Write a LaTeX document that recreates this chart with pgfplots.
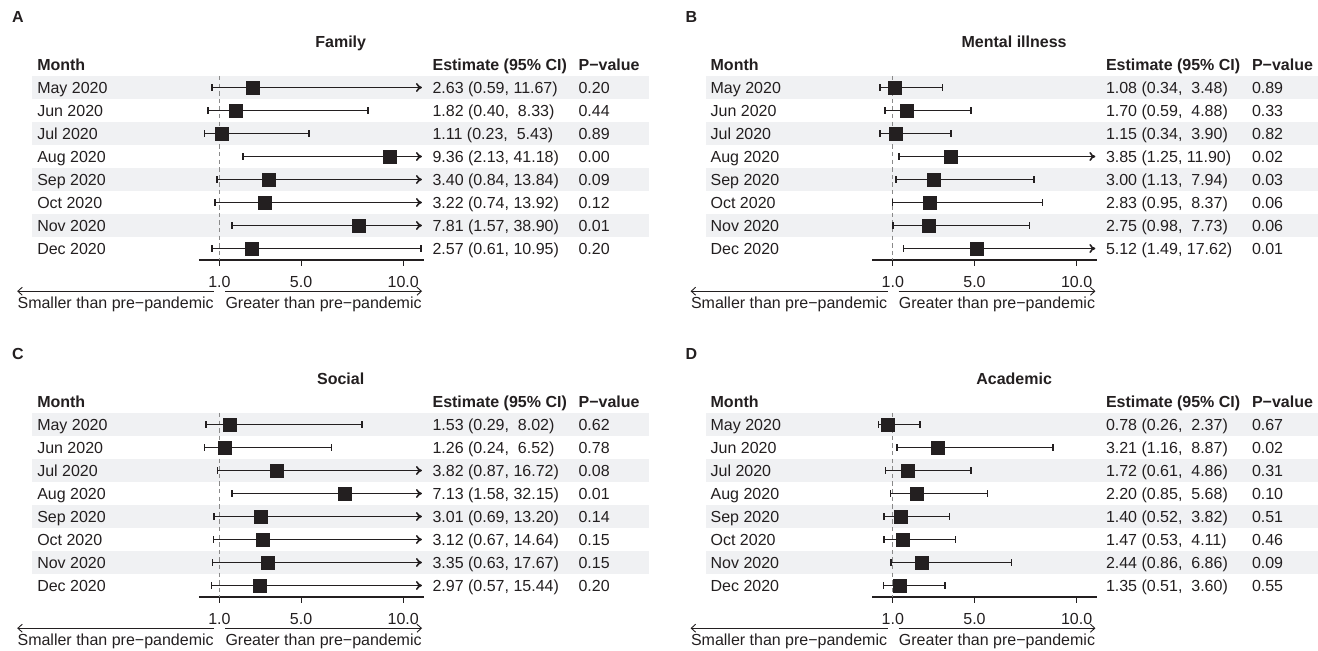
\documentclass[border=0pt]{standalone}
\usepackage{pgfplots}
\pgfplotsset{compat=1.18}
\usepackage{fontspec}
\setmainfont{Liberation Sans}
\usetikzlibrary{arrows.meta}
\definecolor{txt}{HTML}{231F20}
\definecolor{band}{HTML}{F0F1F3}
\definecolor{dashc}{HTML}{8A8A8A}
\newcommand\fs{\fontsize{8}{9.6}\selectfont}

\pgfplotsset{forest/.style={
  x=10.21pt, y=11.5pt, y dir=reverse,
  xmin=0, xmax=11, ymin=0.5, ymax=8.5,
  clip=false, hide y axis, axis x line*=bottom,
  x axis line style={-, line width=0.55pt, draw=txt},
  xtick=\empty,
  anchor=south west,
}}

\newcommand\rowtxt[4]{%
  \node[anchor=base west, inner sep=0, font=\fs, text=txt] at (axis cs:-7.94,#1+0.26) {#2};
  \node[anchor=base west, inner sep=0, font=\fs, text=txt] at (axis cs:11.42,#1+0.26) {#3};
  \node[anchor=base west, inner sep=0, font=\fs, text=txt] at (axis cs:18.57,#1+0.26) {#4};
}
\newcommand\ci[3]{\addplot[txt, line width=0.8pt, {Bar[width=3.2pt]}-{Bar[width=3.2pt]}, restrict x to domain*=0:10.92] coordinates {(#2,#1) (#3,#1)};}
\newcommand\cia[3]{\addplot[txt, line width=0.8pt, {Bar[width=3.2pt]}-{To[length=3pt,width=4.5pt]}, restrict x to domain*=0:10.92] coordinates {(#2,#1) (#3,#1)};}
\newcommand\tk[2]{%
  \draw[txt, line width=0.55pt] (axis cs:#1,8.5) -- (axis cs:#1,8.77);
  \node[anchor=base, inner sep=0, font=\fs, text=txt] at (axis cs:#1,9.70) {#2};
}
\newcommand\panelframe[2]{%
  \fill[band] (axis cs:-8.17,0.5) rectangle (axis cs:22.03,1.5);
  \fill[band] (axis cs:-8.17,2.5) rectangle (axis cs:22.03,3.5);
  \fill[band] (axis cs:-8.17,4.5) rectangle (axis cs:22.03,5.5);
  \fill[band] (axis cs:-8.17,6.5) rectangle (axis cs:22.03,7.5);
  \addplot[dashc, line width=0.6pt, dash pattern=on 2.2pt off 1.6pt] coordinates {(1,0.5) (1,8.5)};
  \tk{1}{1.0}\tk{5}{5.0}\tk{10}{10.0}
  \node[anchor=base west, inner sep=0, font=\fs\bfseries, text=txt] at (axis cs:-9.17,-1.81) {#1};
  \node[anchor=base, inner sep=0, font=\fs\bfseries, text=txt] at (axis cs:6.94,-0.76) {#2};
  \node[anchor=base west, inner sep=0, font=\fs\bfseries, text=txt] at (axis cs:-7.94,0.26) {Month};
  \node[anchor=base west, inner sep=0, font=\fs\bfseries, text=txt] at (axis cs:11.42,0.26) {Estimate (95\% CI)};
  \node[anchor=base west, inner sep=0, font=\fs\bfseries, text=txt] at (axis cs:18.57,0.26) {P−value};
  \node[anchor=base east, inner sep=0, font=\fs, text=txt] (L) at (axis cs:0.74,10.59) {Smaller than pre−pandemic};
  \node[anchor=base west, inner sep=0, font=\fs, text=txt] (R) at (axis cs:1.28,10.59) {Greater than pre−pandemic};
  \coordinate (ay) at (axis cs:0,9.857);
  \draw[txt, line width=0.45pt, {Straight Barb[length=2.2pt,width=4pt]}-] (L.west |- ay) -- (L.east |- ay);
  \draw[txt, line width=0.45pt, -{Straight Barb[length=2.2pt,width=4pt]}] (R.west |- ay) -- (R.east |- ay);
}
\pgfplotsset{sq/.style={only marks, mark=square*, mark size=3.25pt, color=txt}}

\begin{document}
\begin{tikzpicture}
\useasboundingbox (0,0) rectangle (659pt,325pt);

% ---------- A: Family
\begin{axis}[forest, at={(99.5pt,195pt)}]
\panelframe{A}{Family}
\cia{1}{0.59}{11.67}
\ci{2}{0.40}{8.33}
\ci{3}{0.23}{5.43}
\cia{4}{2.13}{41.18}
\cia{5}{0.84}{13.84}
\cia{6}{0.74}{13.92}
\cia{7}{1.57}{38.90}
\ci{8}{0.61}{10.95}
\addplot[sq] coordinates {(2.63,1) (1.82,2) (1.11,3) (9.36,4) (3.40,5) (3.22,6) (7.81,7) (2.57,8)};
\rowtxt{1}{May 2020}{2.63 (0.59, 11.67)}{0.20}
\rowtxt{2}{Jun 2020}{1.82 (0.40,\ \ 8.33)}{0.44}
\rowtxt{3}{Jul 2020}{1.11 (0.23,\ \ 5.43)}{0.89}
\rowtxt{4}{Aug 2020}{9.36 (2.13, 41.18)}{0.00}
\rowtxt{5}{Sep 2020}{3.40 (0.84, 13.84)}{0.09}
\rowtxt{6}{Oct 2020}{3.22 (0.74, 13.92)}{0.12}
\rowtxt{7}{Nov 2020}{7.81 (1.57, 38.90)}{0.01}
\rowtxt{8}{Dec 2020}{2.57 (0.61, 10.95)}{0.20}
\end{axis}

% ---------- B: Mental illness
\begin{axis}[forest, at={(436.2pt,195pt)}]
\panelframe{B}{Mental illness}
\ci{1}{0.34}{3.48}
\ci{2}{0.59}{4.88}
\ci{3}{0.34}{3.90}
\cia{4}{1.25}{11.90}
\ci{5}{1.13}{7.94}
\ci{6}{0.95}{8.37}
\ci{7}{0.98}{7.73}
\cia{8}{1.49}{17.62}
\addplot[sq] coordinates {(1.08,1) (1.70,2) (1.15,3) (3.85,4) (3.00,5) (2.83,6) (2.75,7) (5.12,8)};
\rowtxt{1}{May 2020}{1.08 (0.34,\ \ 3.48)}{0.89}
\rowtxt{2}{Jun 2020}{1.70 (0.59,\ \ 4.88)}{0.33}
\rowtxt{3}{Jul 2020}{1.15 (0.34,\ \ 3.90)}{0.82}
\rowtxt{4}{Aug 2020}{3.85 (1.25, 11.90)}{0.02}
\rowtxt{5}{Sep 2020}{3.00 (1.13,\ \ 7.94)}{0.03}
\rowtxt{6}{Oct 2020}{2.83 (0.95,\ \ 8.37)}{0.06}
\rowtxt{7}{Nov 2020}{2.75 (0.98,\ \ 7.73)}{0.06}
\rowtxt{8}{Dec 2020}{5.12 (1.49, 17.62)}{0.01}
\end{axis}

% ---------- C: Social
\begin{axis}[forest, at={(99.5pt,26.5pt)}]
\panelframe{C}{Social}
\ci{1}{0.29}{8.02}
\ci{2}{0.24}{6.52}
\cia{3}{0.87}{16.72}
\cia{4}{1.58}{32.15}
\cia{5}{0.69}{13.20}
\cia{6}{0.67}{14.64}
\cia{7}{0.63}{17.67}
\cia{8}{0.57}{15.44}
\addplot[sq] coordinates {(1.53,1) (1.26,2) (3.82,3) (7.13,4) (3.01,5) (3.12,6) (3.35,7) (2.97,8)};
\rowtxt{1}{May 2020}{1.53 (0.29,\ \ 8.02)}{0.62}
\rowtxt{2}{Jun 2020}{1.26 (0.24,\ \ 6.52)}{0.78}
\rowtxt{3}{Jul 2020}{3.82 (0.87, 16.72)}{0.08}
\rowtxt{4}{Aug 2020}{7.13 (1.58, 32.15)}{0.01}
\rowtxt{5}{Sep 2020}{3.01 (0.69, 13.20)}{0.14}
\rowtxt{6}{Oct 2020}{3.12 (0.67, 14.64)}{0.15}
\rowtxt{7}{Nov 2020}{3.35 (0.63, 17.67)}{0.15}
\rowtxt{8}{Dec 2020}{2.97 (0.57, 15.44)}{0.20}
\end{axis}

% ---------- D: Academic
\begin{axis}[forest, at={(436.2pt,26.5pt)}]
\panelframe{D}{Academic}
\ci{1}{0.26}{2.37}
\ci{2}{1.16}{8.87}
\ci{3}{0.61}{4.86}
\ci{4}{0.85}{5.68}
\ci{5}{0.52}{3.82}
\ci{6}{0.53}{4.11}
\ci{7}{0.86}{6.86}
\ci{8}{0.51}{3.60}
\addplot[sq] coordinates {(0.78,1) (3.21,2) (1.72,3) (2.20,4) (1.40,5) (1.47,6) (2.44,7) (1.35,8)};
\rowtxt{1}{May 2020}{0.78 (0.26,\ \ 2.37)}{0.67}
\rowtxt{2}{Jun 2020}{3.21 (1.16,\ \ 8.87)}{0.02}
\rowtxt{3}{Jul 2020}{1.72 (0.61,\ \ 4.86)}{0.31}
\rowtxt{4}{Aug 2020}{2.20 (0.85,\ \ 5.68)}{0.10}
\rowtxt{5}{Sep 2020}{1.40 (0.52,\ \ 3.82)}{0.51}
\rowtxt{6}{Oct 2020}{1.47 (0.53,\ \ 4.11)}{0.46}
\rowtxt{7}{Nov 2020}{2.44 (0.86,\ \ 6.86)}{0.09}
\rowtxt{8}{Dec 2020}{1.35 (0.51,\ \ 3.60)}{0.55}
\end{axis}
\end{tikzpicture}
\end{document}
